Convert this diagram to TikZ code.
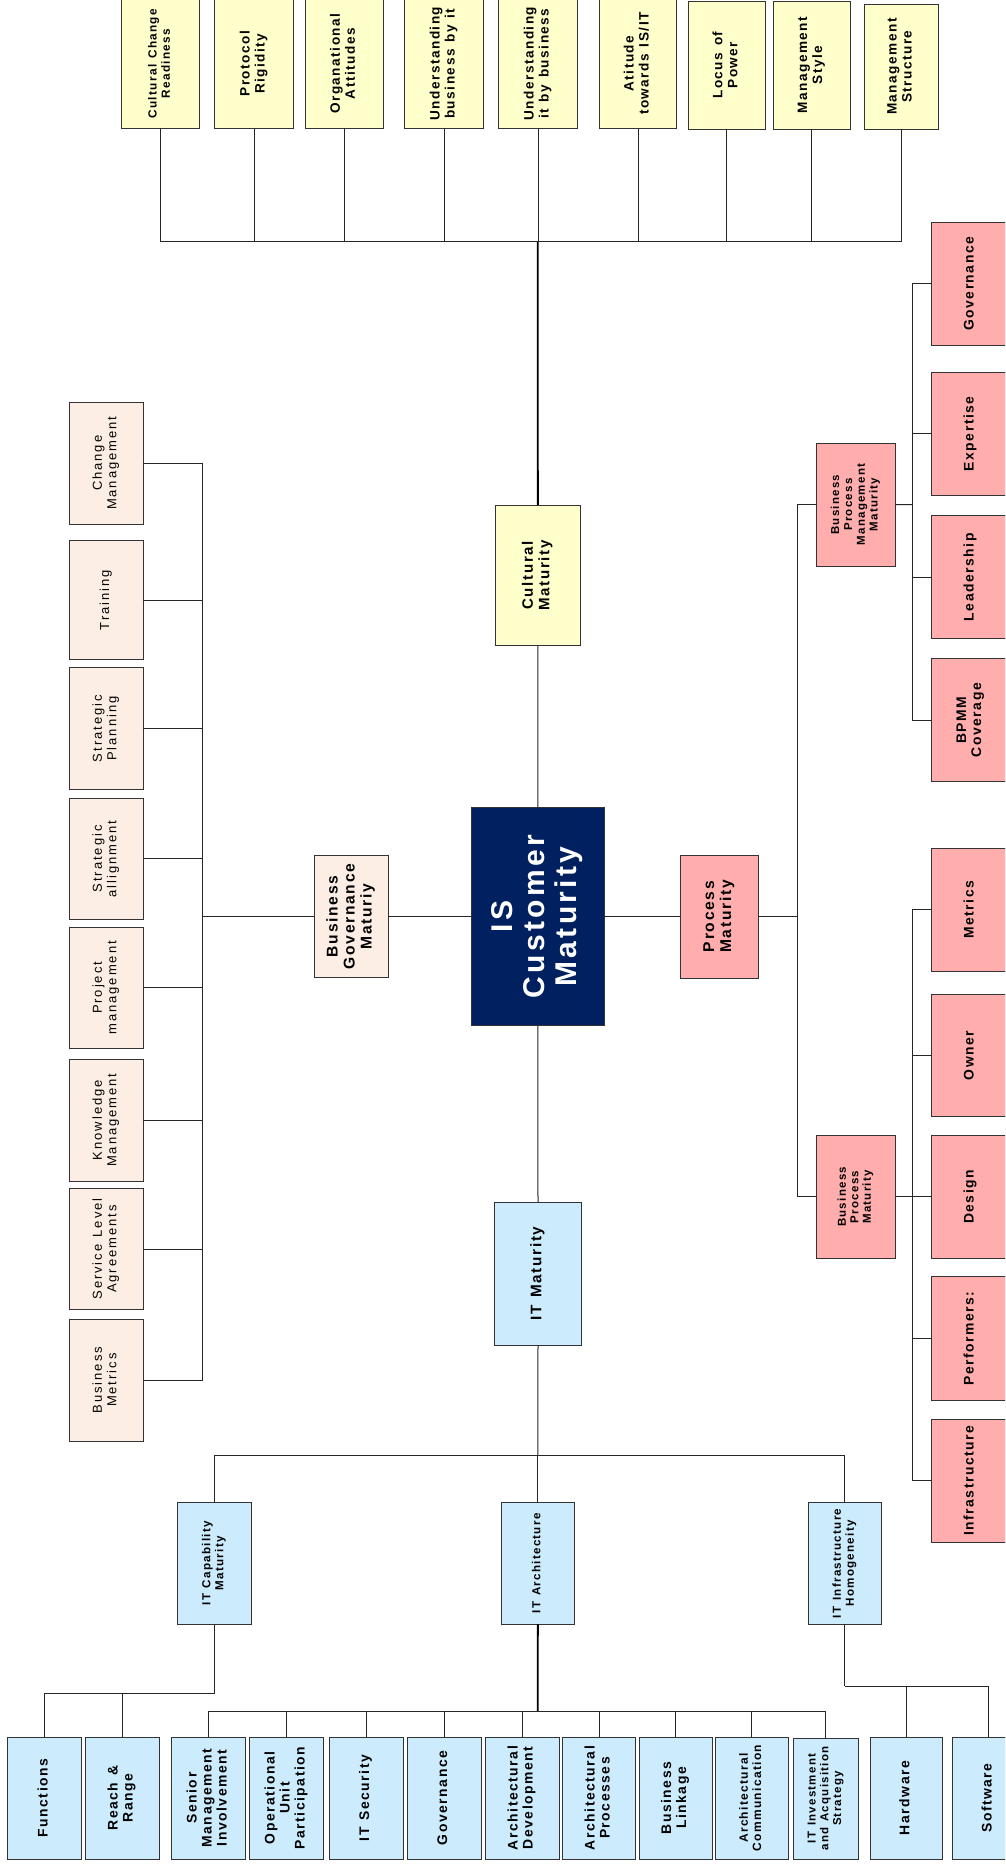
\documentclass[tikz,border=0pt]{standalone}
\usepackage{fontspec}
\setmainfont{Liberation Sans}
\newfontfamily\lab[LetterSpace=15,WordSpace=1.3]{Liberation Sans}
\newfontfamily\labb[LetterSpace=11,WordSpace=1.3]{Liberation Sans}
\usetikzlibrary{calc}
\definecolor{cyel}{HTML}{FFFFCC}
\definecolor{cpea}{HTML}{FCEEE4}
\definecolor{cpnk}{HTML}{FFADAD}
\definecolor{cblu}{HTML}{CCEBFD}
\definecolor{cnav}{HTML}{002060}
\newcommand\rt[1]{\rotatebox{90}{\begin{tabular}{@{}c@{}}#1\end{tabular}}}
\newcommand\fs[2]{\fontsize{#1}{#2}\selectfont}
\newcommand\bx[7]{\node[#6, minimum width={(#4)-(#2)}, minimum height={(#5)-(#3)}] (#1) at ({((#2)+(#4))/2},{((#3)+(#5))/2}) {\rt{#7}};}
\begin{document}
\begin{tikzpicture}[x=1pt,y=-1pt,
  box/.style={draw=black!80, line width=0.9pt, inner sep=0pt, outer sep=0pt},
  yb/.style={box, fill=cyel, font=\labb\bfseries\fs{13.6}{15}},
  pb/.style={box, fill=cpea, font=\lab\fs{13}{14.5}},
  kb/.style={box, fill=cpnk, font=\labb\bfseries\fs{13.9}{15}},
  bb/.style={box, fill=cblu, font=\labb\bfseries\fs{13.9}{15}},
  conn/.style={draw=black!85, line width=1pt},
  trunk/.style={draw=black, line width=1.8pt}]
\useasboundingbox (0,0) rectangle (1005,1866);
\clip (0,0) rectangle (1005,1866);
\fill[white] (0,0) rectangle (1005,1866);

% centre
\bx{is}{471.3}{807.3}{604.3}{1025.7}{box, fill=cnav, text=white, font=\labb\bfseries\fs{30}{32}}{IS\\Customer\\Maturity}
\bx{cm}{495}{505}{580.7}{645.7}{yb, font=\labb\bfseries\fs{15.1}{16.5}}{Cultural\\Maturity}
\bx{pm}{680}{855}{758.3}{978}{kb, font=\labb\bfseries\fs{15.6}{17}}{Process\\Maturity}
\bx{bg}{314.3}{855.7}{388.3}{977.3}{pb, font=\labb\bfseries\fs{15.6}{17}}{Business\\Governance\\Maturiy}
\bx{itm}{494.7}{1202}{581.3}{1345.3}{bb, font=\labb\bfseries\fs{15.3}{16.5}}{IT Maturity}

% cultural children
\bx{c1}{121.7}{-1}{199.3}{128.3}{yb, font=\labb\bfseries\fs{11.8}{13.3}}{Cultural Change\\Readiness}
\bx{c2}{214.3}{-1}{293.7}{128.3}{yb}{Protocol\\Rigidity}
\bx{c3}{305}{-1}{383.7}{128.3}{yb}{Organational\\Attitudes}
\bx{c4}{404.7}{-1}{483.3}{128.3}{yb}{Understanding\\business by it}
\bx{c5}{498.7}{-1}{577.3}{128.3}{yb}{Understanding\\it by business}
\bx{c6}{599.3}{-1}{676.7}{128.3}{yb}{Atitude\\towards IS/IT}
\bx{c7}{688.3}{1.3}{765.3}{129}{yb}{Locus of\\Power}
\bx{c8}{773}{1.3}{850}{129}{yb}{Management\\Style}
\bx{c9}{864}{4.3}{938.3}{129}{yb}{Management\\Structure}

% governance children
\bx{g1}{69.3}{402.2}{143.3}{524.3}{pb}{Change\\Management}
\bx{g2}{69.3}{540.4}{143.3}{659.8}{pb}{Training}
\bx{g3}{69.3}{667.8}{143.3}{789.5}{pb}{Strategic\\Planning}
\bx{g4}{69.3}{798}{143.3}{919.7}{pb}{Strategic\\allignment}
\bx{g5}{69.3}{927}{143.3}{1048.7}{pb}{Project\\management}
\bx{g6}{69.3}{1059.3}{143.3}{1181}{pb}{Knowledge\\Management}
\bx{g7}{69.3}{1188.3}{143.3}{1309.7}{pb}{Service Level\\Agreements}
\bx{g8}{69.3}{1319.3}{143.3}{1441}{pb}{Business\\Metrics}

% process children
\bx{bpmm}{816.7}{443}{895}{566.2}{kb, font=\labb\bfseries\fs{11.5}{12.8}}{Business\\Process\\Management\\Maturity}
\bx{bpm}{816.7}{1135.7}{895}{1258.1}{kb, font=\labb\bfseries\fs{11.5}{12.5}}{Business\\Process\\Maturity}
\bx{p1}{931.7}{222.2}{1009.5}{345.4}{kb}{Governance}
\bx{p2}{931.7}{372.2}{1009.5}{495.4}{kb}{Expertise}
\bx{p3}{931.7}{515.7}{1009.5}{638.6}{kb}{Leadership}
\bx{p4}{931.7}{658.5}{1009.5}{781.7}{kb}{BPMM\\Coverage}
\bx{q1}{931.7}{848.7}{1009.5}{971.1}{kb}{Metrics}
\bx{q2}{931.7}{994.1}{1009.5}{1116.6}{kb}{Owner}
\bx{q3}{931.7}{1135.7}{1009.5}{1258.1}{kb}{Design}
\bx{q4}{931.7}{1276.8}{1009.5}{1400.2}{kb}{Performers:}
\bx{q5}{931.7}{1419.3}{1009.5}{1542.2}{kb}{Infrastructure}

% IT children
\bx{itc}{177.3}{1502.3}{251.3}{1624.3}{bb, font=\labb\bfseries\fs{11.6}{13}}{IT Capability\\Maturity}
\bx{ita}{501}{1502.3}{574.7}{1624.3}{bb, font=\labb\bfseries\fs{11.6}{13}}{IT Architecture}
\bx{iti}{808}{1502.3}{881.6}{1624.3}{bb, font=\labb\bfseries\fs{11.6}{13}}{IT Infrastructure\\Homogeneity}
\bx{f1}{7.3}{1737}{81.7}{1859}{bb}{Functions}
\bx{f2}{85}{1737}{159}{1859}{bb}{Reach \&\\Range}
\bx{a1}{171.7}{1737}{245.3}{1859}{bb}{Senior\\Management\\Involvement}
\bx{a2}{249.7}{1737}{323.3}{1859}{bb}{Operational\\Unit\\Participation}
\bx{a3}{329}{1737}{403}{1859}{bb}{IT Security}
\bx{a4}{407}{1737}{481}{1859}{bb}{Governance}
\bx{a5}{485}{1737}{559}{1859}{bb}{Architectural\\Development}
\bx{a6}{562.3}{1737}{635.7}{1859}{bb}{Architectural\\Processes}
\bx{a7}{639}{1737}{712.3}{1859}{bb}{Business\\Linkage}
\bx{a8}{715.7}{1737}{788}{1859}{bb, font=\labb\bfseries\fs{12}{13.4}}{Architectural\\Communication}
\bx{a9}{793}{1738}{858.5}{1859}{bb, font=\labb\bfseries\fs{11.5}{12.8}}{IT Investment\\and Acquisition\\Strategy}
\bx{h1}{870}{1737}{942.5}{1859}{bb}{Hardware}
\bx{h2}{952.7}{1737}{1024.3}{1859}{bb}{Software}

% junction coordinates
\coordinate (ct) at (537.8,241.7);
\coordinate (gb) at (202.7,916.5);
\coordinate (pv) at (797.3,916.5);
\coordinate (bj1) at (912.7,504.6);
\coordinate (bj2) at (912.7,1196.9);
\coordinate (itj) at (537.8,1455.3);
\coordinate (fj) at (214.3,1693.7);
\coordinate (aj) at (537.8,1711);
\coordinate (hj) at (844.8,1686);

% main connectors
\draw[conn] (is.north) -- (cm.south);
\draw[conn] (is.south) -- (itm.north);
\draw[conn] (bg.east) -- (is.west);
\draw[conn] (is.east) -- (pm.west);

% cultural
\draw[trunk] (cm.north) -- (ct);
\foreach \n in {c1,c2,c3,c4,c5,c6,c7,c8,c9} \draw[conn] (\n.south) |- (ct);

% governance
\draw[conn] (bg.west) -- (gb);
\foreach \n in {g1,g2,g3,g4,g5,g6,g7,g8} \draw[conn] (\n.east) -| (gb);

% process
\draw[conn] (pm.east) -- (pv);
\draw[conn] (bpmm.west) -| (pv);
\draw[conn] (bpm.west) -| (pv);
\draw[conn] (bpmm.east) -- (bj1);
\foreach \n in {p1,p2,p3,p4} \draw[conn] (\n.west) -| (bj1);
\draw[conn] (bpm.east) -- (bj2);
\foreach \n in {q1,q2,q3,q4,q5} \draw[conn] (\n.west) -| (bj2);

% IT
\draw[conn] (itm.south) -- (itj);
\foreach \n in {itc,ita,iti} \draw[conn] (\n.north) |- (itj);
\draw[conn] (itc.south) -- (fj);
\foreach \n in {f1,f2} \draw[conn] (\n.north) |- (fj);
\draw[trunk] (ita.south) -- (aj);
\foreach \n in {a1,a2,a3,a4,a5,a6,a7,a8,a9} \draw[conn] (\n.north) |- (aj);
\draw[conn] (iti.south) -- (hj);
\foreach \n in {h1,h2} \draw[conn] (\n.north) |- (hj);
\end{tikzpicture}
\end{document}
